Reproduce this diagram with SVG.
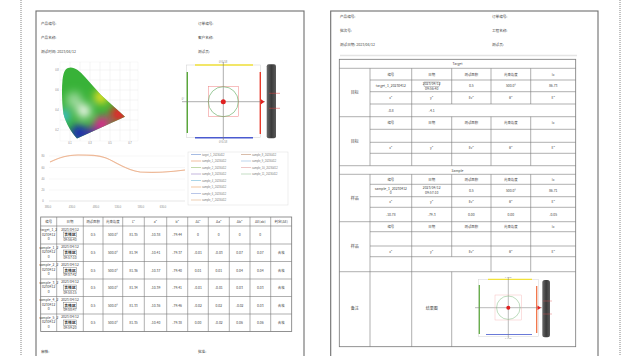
<svg xmlns="http://www.w3.org/2000/svg" width="627" height="356" viewBox="0 0 627 356">
<defs>
<style>
.pg{fill:#fff;stroke:#6e6e6e;stroke-width:1.1}
.dot{stroke:#9a9a9a;stroke-width:1.2;stroke-dasharray:1 1;fill:none}
.t{font-family:"Noto Sans CJK SC","Liberation Sans",sans-serif;font-size:3.6px;fill:#444}
.tc{font-family:"Noto Sans CJK SC","Liberation Sans",sans-serif;font-size:3.4px;fill:#444;text-anchor:middle}
.tb{font-family:"Noto Sans CJK SC","Liberation Sans",sans-serif;font-size:3.8px;fill:#333;font-weight:bold;text-anchor:middle}
.tl{stroke:#7a7a7a;stroke-width:0.6;fill:none}
.grid{stroke:#e6e6e6;stroke-width:0.4}
.ax{font-family:"Liberation Sans",sans-serif;font-size:2.6px;fill:#888;text-anchor:middle}
</style>
<clipPath id="hs"><path d="M68,68 C73,66 79,70 85,77 L101,95 L125,116.7 L77,138.5 C72,133 66,124 63.5,114 C62,104 61.5,90 62.5,80 C63.5,72 65,69 68,68 Z"/></clipPath>
<filter id="bl" x="-50%" y="-50%" width="200%" height="200%"><feGaussianBlur stdDeviation="4"/></filter>
<linearGradient id="bar" x1="0" y1="0" x2="1" y2="0"><stop offset="0" stop-color="#6a6a6a"/><stop offset="0.5" stop-color="#3a3a3a"/><stop offset="1" stop-color="#5a5a5a"/></linearGradient>
</defs>
<rect width="627" height="356" fill="#fff"/>
<line class="dot" x1="21" y1="0" x2="21" y2="356"/>
<line class="dot" x1="620" y1="0" x2="620" y2="356"/>

<!-- LEFT PAGE -->
<g id="page-left">
<rect class="pg" x="36" y="11" width="268" height="360"/>
<text class="t" x="41" y="25">产品编号:</text>
<text class="t" x="41" y="39">产品名称:</text>
<text class="t" x="41" y="53">测试时间: 2023/04/12</text>
<text class="t" x="198" y="25">订单编号:</text>
<text class="t" x="198" y="39">客户名称:</text>
<text class="t" x="198" y="53">测试员:</text>
</g>

<g id="cie-chart">
<rect x="60" y="62" width="78" height="79" fill="#fff" stroke="#eee" stroke-width="0.4"/>
<g class="grid">
<line x1="60" y1="70" x2="138" y2="70"/><line x1="60" y1="80" x2="138" y2="80"/><line x1="60" y1="90" x2="138" y2="90"/><line x1="60" y1="100" x2="138" y2="100"/><line x1="60" y1="110" x2="138" y2="110"/><line x1="60" y1="120" x2="138" y2="120"/><line x1="60" y1="130" x2="138" y2="130"/>
<line x1="70" y1="62" x2="70" y2="141"/><line x1="80" y1="62" x2="80" y2="141"/><line x1="90" y1="62" x2="90" y2="141"/><line x1="100" y1="62" x2="100" y2="141"/><line x1="110" y1="62" x2="110" y2="141"/><line x1="120" y1="62" x2="120" y2="141"/><line x1="130" y1="62" x2="130" y2="141"/>
</g>
<g clip-path="url(#hs)">
<rect x="55" y="60" width="80" height="85" fill="#38b238"/>
<g filter="url(#bl)">
<circle cx="74" cy="100" r="8" fill="#9ad89a"/>
<circle cx="101" cy="97" r="7" fill="#f2e324"/>
<circle cx="119" cy="114" r="9" fill="#e8202a"/>
<circle cx="102" cy="124" r="8" fill="#e2258c"/>
<circle cx="79" cy="133" r="9" fill="#1e2fb0"/>
<circle cx="64" cy="116" r="6" fill="#3cc0ea"/>
<circle cx="93" cy="134" r="7" fill="#4a2aa8"/>
<circle cx="84" cy="111" r="7" fill="#f2f8ee"/>
</g>
</g>
<g class="ax">
<text x="57" y="71">0.8</text><text x="57" y="91">0.6</text><text x="57" y="111">0.4</text><text x="57" y="131">0.2</text>
<text x="70" y="144">0.1</text><text x="90" y="144">0.3</text><text x="110" y="144">0.5</text><text x="130" y="144">0.7</text>
</g>
</g>

<g id="target-left">
<rect x="186.7" y="65" width="74" height="72.7" fill="none" stroke="#cfcfcf" stroke-width="0.5"/>
<line x1="195" y1="65" x2="253" y2="65" stroke="#f2e23a" stroke-width="1.4"/>
<line x1="195" y1="137.7" x2="253" y2="137.7" stroke="#4a5ad0" stroke-width="1.4"/>
<line x1="187.3" y1="72" x2="187.3" y2="133" stroke="#5aa83a" stroke-width="1.4"/>
<line x1="260.3" y1="72" x2="260.3" y2="134" stroke="#e83a2a" stroke-width="1.4"/>
<line x1="182" y1="101.7" x2="265" y2="101.7" stroke="#777" stroke-width="0.6"/>
<line x1="223.3" y1="62" x2="223.3" y2="140" stroke="#777" stroke-width="0.6"/>
<rect x="208.3" y="86.7" width="30" height="30" fill="none" stroke="#f08080" stroke-width="0.5"/>
<circle cx="223.3" cy="101.7" r="15" fill="none" stroke="#5aa85a" stroke-width="0.6"/>
<circle cx="223.3" cy="101.7" r="2.5" fill="#e02020"/>
<path d="M261,99.2 L264.5,101.7 L261,104.2 Z" fill="#e02020"/>
<text class="ax" x="223" y="63">0°/0.58</text>
<text class="ax" x="223" y="142.5">0°/0.58</text>
<text class="ax" x="183" y="100">0°</text>
<rect x="266.7" y="64.3" width="9.3" height="74" rx="2" fill="url(#bar)"/>
<line x1="269" y1="93.3" x2="280" y2="93.3" stroke="#e04040" stroke-width="0.5"/>
<line x1="269" y1="108.3" x2="280" y2="108.3" stroke="#e04040" stroke-width="0.5"/>
</g>

<g id="spectrum-chart">
<g class="grid" style="stroke:#ececec">
<line x1="49" y1="156" x2="185" y2="156"/><line x1="49" y1="167.5" x2="185" y2="167.5"/><line x1="49" y1="179" x2="185" y2="179"/><line x1="49" y1="190" x2="185" y2="190"/>
</g>
<line x1="49" y1="201" x2="185" y2="201" stroke="#ccc" stroke-width="0.5"/>
<g class="ax">
<text x="43" y="157">80</text><text x="43" y="168.5">60</text><text x="43" y="180">40</text><text x="43" y="191">20</text><text x="43" y="202">0</text>
<text x="48" y="207.5">380.0</text><text x="72" y="207.5">430.0</text><text x="96" y="207.5">480.0</text><text x="118" y="207.5">530.0</text><text x="141" y="207.5">580.0</text><text x="163" y="207.5">630.0</text>
</g>
<path d="M50,162 C60,157 68,155 78,155 C90,155 98,155 106,158 C116,162 126,170 140,172 C155,173 170,172 185,170" fill="none" stroke="#f3cdb8" stroke-width="1.1"/>
<path d="M50,162 C60,157 68,155 78,155 C90,155 98,155 106,158 C116,162 126,170 140,172 C155,173 170,172 185,170" fill="none" stroke="#e6a070" stroke-width="0.5"/>
<rect x="188" y="152" width="100" height="53" fill="#fff" stroke="#ddd" stroke-width="0.5"/>
<g stroke-width="0.6">
<line x1="191" y1="154.5" x2="201" y2="154.5" stroke="#6a8fd0"/>
<line x1="191" y1="161" x2="201" y2="161" stroke="#e89060"/>
<line x1="191" y1="167.5" x2="201" y2="167.5" stroke="#98c070"/>
<line x1="191" y1="174" x2="201" y2="174" stroke="#a088c8"/>
<line x1="191" y1="180.5" x2="201" y2="180.5" stroke="#70b8d8"/>
<line x1="191" y1="187" x2="201" y2="187" stroke="#e8a060"/>
<line x1="191" y1="193.5" x2="201" y2="193.5" stroke="#8aa0d8"/>
<line x1="191" y1="200" x2="201" y2="200" stroke="#e0b080"/>
<line x1="241" y1="154.5" x2="251" y2="154.5" stroke="#c09070"/>
<line x1="241" y1="161" x2="251" y2="161" stroke="#90b8e0"/>
<line x1="241" y1="167.5" x2="251" y2="167.5" stroke="#e0a0a0"/>
<line x1="241" y1="174" x2="251" y2="174" stroke="#a0c8a0"/>
</g>
<g class="ax" style="text-anchor:start;fill:#777">
<text x="202" y="155.5">target_1_20230412</text>
<text x="202" y="162">sample_1_20230412</text>
<text x="202" y="168.5">sample_2_20230412</text>
<text x="202" y="175">sample_3_20230412</text>
<text x="202" y="181.5">sample_4_20230412</text>
<text x="202" y="188">sample_5_20230412</text>
<text x="202" y="194.5">sample_6_20230412</text>
<text x="202" y="201">sample_7_20230412</text>
<text x="252" y="155.5">sample_8_20230412</text>
<text x="252" y="162">sample_9_20230412</text>
<text x="252" y="168.5">sample_10_20230412</text>
<text x="252" y="175">sample_11_20230412</text>
</g>
</g>

<g id="table-left">
<rect x="40.7" y="217" width="251" height="114.5" fill="none" stroke="#777" stroke-width="0.8"/>
<g class="tl">
<line x1="40.7" y1="226" x2="291.7" y2="226"/>
<line x1="40.7" y1="244" x2="291.7" y2="244"/>
<line x1="40.7" y1="261.5" x2="291.7" y2="261.5"/>
<line x1="40.7" y1="279" x2="291.7" y2="279"/>
<line x1="40.7" y1="296.5" x2="291.7" y2="296.5"/>
<line x1="40.7" y1="314" x2="291.7" y2="314"/>
<line x1="56.7" y1="217" x2="56.7" y2="331.5"/><line x1="83.3" y1="217" x2="83.3" y2="331.5"/><line x1="103" y1="217" x2="103" y2="331.5"/><line x1="122.7" y1="217" x2="122.7" y2="331.5"/><line x1="144.3" y1="217" x2="144.3" y2="331.5"/><line x1="166.7" y1="217" x2="166.7" y2="331.5"/><line x1="187.7" y1="217" x2="187.7" y2="331.5"/><line x1="208.3" y1="217" x2="208.3" y2="331.5"/><line x1="229.3" y1="217" x2="229.3" y2="331.5"/><line x1="250" y1="217" x2="250" y2="331.5"/><line x1="270.7" y1="217" x2="270.7" y2="331.5"/>
</g>
<g class="tc">
<text x="48.7" y="223">编号</text><text x="70" y="223">日期</text><text x="93" y="223">测试面积</text><text x="112.8" y="223">光束角度</text><text x="133.5" y="223">L*</text><text x="155.5" y="223">a*</text><text x="177.2" y="223">b*</text><text x="198" y="223">ΔL*</text><text x="218.8" y="223">Δa*</text><text x="239.6" y="223">Δb*</text><text x="260.3" y="223">ΔE(ab)</text><text x="281.2" y="223">判定(ΔE)</text>
</g>
<g class="tc">
<text x="48.7" y="231">target_1_2</text><text x="48.7" y="235.5">0230412</text><text x="48.7" y="240">0</text>
<text x="70" y="230.5">2023/04/12</text><text x="70" y="241">09:56:40</text>
<text x="93" y="236">0.5</text><text x="112.8" y="236">500.0°</text><text x="133.5" y="236">81.35</text><text x="155.5" y="236">-10.38</text><text x="177.2" y="236">-79.44</text><text x="198" y="236">0</text><text x="218.8" y="236">0</text><text x="239.6" y="236">0</text><text x="260.3" y="236">0</text>
</g>
<rect x="63.5" y="232" width="13" height="5.5" fill="none" stroke="#666" stroke-width="0.4"/>
<text class="tb" x="70" y="236.3">合格区</text>
<g class="tc">
<text x="48.7" y="248.5">sample_1_2</text><text x="48.7" y="253">0230412</text><text x="48.7" y="257.5">0</text>
<text x="70" y="248">2023/04/12</text><text x="70" y="258.5">09:57:10</text>
<text x="93" y="254">0.5</text><text x="112.8" y="254">500.0°</text><text x="133.5" y="254">81.34</text><text x="155.5" y="254">-10.41</text><text x="177.2" y="254">-79.37</text><text x="198" y="254">-0.01</text><text x="218.8" y="254">-0.03</text><text x="239.6" y="254">0.07</text><text x="260.3" y="254">0.07</text><text x="281.2" y="254">合格</text>
<text x="48.7" y="266">sample_2_2</text><text x="48.7" y="270.5">0230412</text><text x="48.7" y="275">0</text>
<text x="70" y="265.5">2023/04/12</text><text x="70" y="276">09:57:42</text>
<text x="93" y="271.5">0.5</text><text x="112.8" y="271.5">500.0°</text><text x="133.5" y="271.5">81.36</text><text x="155.5" y="271.5">-10.37</text><text x="177.2" y="271.5">-79.40</text><text x="198" y="271.5">0.01</text><text x="218.8" y="271.5">0.01</text><text x="239.6" y="271.5">0.04</text><text x="260.3" y="271.5">0.04</text><text x="281.2" y="271.5">合格</text>
<text x="48.7" y="283.5">sample_3_2</text><text x="48.7" y="288">0230412</text><text x="48.7" y="292.5">0</text>
<text x="70" y="283">2023/04/12</text><text x="70" y="293.5">09:58:15</text>
<text x="93" y="289">0.5</text><text x="112.8" y="289">500.0°</text><text x="133.5" y="289">81.34</text><text x="155.5" y="289">-10.39</text><text x="177.2" y="289">-79.41</text><text x="198" y="289">-0.01</text><text x="218.8" y="289">-0.01</text><text x="239.6" y="289">0.03</text><text x="260.3" y="289">0.03</text><text x="281.2" y="289">合格</text>
<text x="48.7" y="301">sample_4_2</text><text x="48.7" y="305.5">0230412</text><text x="48.7" y="310">0</text>
<text x="70" y="300.5">2023/04/12</text><text x="70" y="311">09:58:47</text>
<text x="93" y="306.5">0.5</text><text x="112.8" y="306.5">500.0°</text><text x="133.5" y="306.5">81.33</text><text x="155.5" y="306.5">-10.36</text><text x="177.2" y="306.5">-79.46</text><text x="198" y="306.5">-0.02</text><text x="218.8" y="306.5">0.02</text><text x="239.6" y="306.5">-0.02</text><text x="260.3" y="306.5">0.03</text><text x="281.2" y="306.5">合格</text>
<text x="48.7" y="318.5">sample_5_2</text><text x="48.7" y="323">0230412</text><text x="48.7" y="327.5">0</text>
<text x="70" y="318">2023/04/12</text><text x="70" y="328.5">09:59:20</text>
<text x="93" y="324">0.5</text><text x="112.8" y="324">500.0°</text><text x="133.5" y="324">81.35</text><text x="155.5" y="324">-10.40</text><text x="177.2" y="324">-79.38</text><text x="198" y="324">0.00</text><text x="218.8" y="324">-0.02</text><text x="239.6" y="324">0.06</text><text x="260.3" y="324">0.06</text><text x="281.2" y="324">合格</text>
</g>
<g fill="none" stroke="#666" stroke-width="0.4">
<rect x="63.5" y="250" width="13" height="5.5"/><rect x="63.5" y="267.5" width="13" height="5.5"/><rect x="63.5" y="285" width="13" height="5.5"/><rect x="63.5" y="302.5" width="13" height="5.5"/><rect x="63.5" y="320" width="13" height="5.5"/>
</g>
<g>
<text class="tb" x="70" y="254.3">合格区</text><text class="tb" x="70" y="271.8">合格区</text><text class="tb" x="70" y="289.3">合格区</text><text class="tb" x="70" y="306.8">合格区</text><text class="tb" x="70" y="324.3">合格区</text>
</g>
<text class="t" x="41" y="353">审核:</text>
<text class="t" x="198" y="353">批准:</text>
</g>

<!-- RIGHT PAGE -->
<g id="page-right">
<rect class="pg" x="330.7" y="11" width="267.3" height="360"/>
<text class="t" x="340" y="17.5">产品编号:</text>
<text class="t" x="340" y="31.5">批次号:</text>
<text class="t" x="340" y="45.5">测试日期: 2023/04/12</text>
<text class="t" x="492" y="17.5">订单编号:</text>
<text class="t" x="492" y="31.5">工程名称:</text>
<text class="t" x="492" y="45.5">测试员:</text>
<line x1="340" y1="55.5" x2="577" y2="55.5" stroke="#e4e4e4" stroke-width="1.5"/>
</g>

<g id="table-right">
<rect x="339.3" y="59.3" width="236.4" height="287.4" fill="none" stroke="#777" stroke-width="0.8"/>
<g class="tl">
<line x1="339.3" y1="68.3" x2="575.7" y2="68.3"/>
<line x1="339.3" y1="116.7" x2="575.7" y2="116.7"/>
<line x1="339.3" y1="165.7" x2="575.7" y2="165.7"/>
<line x1="339.3" y1="174.3" x2="575.7" y2="174.3"/>
<line x1="339.3" y1="221.7" x2="575.7" y2="221.7"/>
<line x1="339.3" y1="271.7" x2="575.7" y2="271.7"/>
<line x1="370" y1="80" x2="575.7" y2="80"/><line x1="370" y1="91.7" x2="575.7" y2="91.7"/><line x1="370" y1="104" x2="575.7" y2="104"/>
<line x1="370" y1="129.3" x2="575.7" y2="129.3"/><line x1="370" y1="142.3" x2="575.7" y2="142.3"/><line x1="370" y1="153.3" x2="575.7" y2="153.3"/>
<line x1="370" y1="184.3" x2="575.7" y2="184.3"/><line x1="370" y1="196.7" x2="575.7" y2="196.7"/><line x1="370" y1="207.3" x2="575.7" y2="207.3"/>
<line x1="370" y1="231.7" x2="575.7" y2="231.7"/><line x1="370" y1="246" x2="575.7" y2="246"/><line x1="370" y1="256.7" x2="575.7" y2="256.7"/>
<line x1="370" y1="68.3" x2="370" y2="165.7"/><line x1="370" y1="174.3" x2="370" y2="346.7"/>
<line x1="411.7" y1="68.3" x2="411.7" y2="165.7"/><line x1="411.7" y1="174.3" x2="411.7" y2="346.7"/>
<line x1="451.7" y1="68.3" x2="451.7" y2="104"/><line x1="451.7" y1="116.7" x2="451.7" y2="165.7"/><line x1="451.7" y1="174.3" x2="451.7" y2="256.7"/><line x1="451.7" y1="271.7" x2="451.7" y2="346.7"/>
<line x1="491" y1="68.3" x2="491" y2="104"/><line x1="491" y1="116.7" x2="491" y2="165.7"/><line x1="491" y1="174.3" x2="491" y2="271.7"/>
<line x1="530.7" y1="68.3" x2="530.7" y2="104"/><line x1="530.7" y1="116.7" x2="530.7" y2="165.7"/><line x1="530.7" y1="174.3" x2="530.7" y2="271.7"/>
</g>
<g class="tc">
<text x="457.5" y="65.3">Target</text>
<text x="457.5" y="171.5">Sample</text>
<text x="354.7" y="93.5" style="font-size:4px">目标</text>
<text x="354.7" y="142.5" style="font-size:4px">目标</text>
<text x="354.7" y="199.5" style="font-size:4px">样品</text>
<text x="354.7" y="247.5" style="font-size:4px">样品</text>
<text x="354.7" y="310" style="font-size:4px">备注</text>
<text x="431.7" y="310" style="font-size:4px">结果图</text>
<text x="390.8" y="75.5">编号</text><text x="431.7" y="75.5">日期</text><text x="471.3" y="75.5">测试面积</text><text x="510.8" y="75.5">光束角度</text><text x="553.2" y="75.5">lx</text>
<text x="390.8" y="87">target_1_20230412</text><text x="431.7" y="85">2023/04/12</text><text x="431.7" y="89.7">09:56:40</text><text x="471.3" y="87">0.5</text><text x="510.8" y="87">500.0°</text><text x="553.2" y="87">86.73</text>
<text x="390.8" y="99">x*</text><text x="431.7" y="99">y*</text><text x="471.3" y="99">Ev*</text><text x="510.8" y="99">θ*</text><text x="553.2" y="99">E*</text>
<text x="390.8" y="111.5">-0.8</text><text x="431.7" y="111.5">-4.1</text>
<text x="390.8" y="124">编号</text><text x="431.7" y="124">日期</text><text x="471.3" y="124">测试面积</text><text x="510.8" y="124">光束角度</text><text x="553.2" y="124">lx</text>
<text x="390.8" y="149">x*</text><text x="431.7" y="149">y*</text><text x="471.3" y="149">Ev*</text><text x="510.8" y="149">θ*</text><text x="553.2" y="149">E*</text>
<text x="390.8" y="180.5">编号</text><text x="431.7" y="180.5">日期</text><text x="471.3" y="180.5">测试面积</text><text x="510.8" y="180.5">光束角度</text><text x="553.2" y="180.5">lx</text>
<text x="390.8" y="189.5">sample_1_20230412</text><text x="390.8" y="194">0</text><text x="431.7" y="189.3">2023/04/12</text><text x="431.7" y="194">09:57:10</text><text x="471.3" y="191.5">0.5</text><text x="510.8" y="191.5">500.0°</text><text x="553.2" y="191.5">86.71</text>
<text x="390.8" y="203">x*</text><text x="431.7" y="203">y*</text><text x="471.3" y="203">Ev*</text><text x="510.8" y="203">θ*</text><text x="553.2" y="203">E*</text>
<text x="390.8" y="215.5">-10.78</text><text x="431.7" y="215.5">-79.3</text><text x="471.3" y="215.5">0.00</text><text x="510.8" y="215.5">0.00</text><text x="553.2" y="215.5">-0.05</text>
<text x="390.8" y="228">编号</text><text x="431.7" y="228">日期</text><text x="471.3" y="228">测试面积</text><text x="510.8" y="228">光束角度</text><text x="553.2" y="228">lx</text>
<text x="390.8" y="252.5">x*</text><text x="431.7" y="252.5">y*</text><text x="471.3" y="252.5">Ev*</text><text x="510.8" y="252.5">θ*</text><text x="553.2" y="252.5">E*</text>
</g>
<rect x="424" y="82" width="15.5" height="4.2" fill="none" stroke="#666" stroke-width="0.35"/>
</g>

<g id="target-right">
<rect x="478.3" y="279.3" width="60" height="57.4" fill="none" stroke="#d4d4d4" stroke-width="0.5"/>
<line x1="488" y1="279.3" x2="532" y2="279.3" stroke="#f2e23a" stroke-width="1.2"/>
<line x1="486" y1="334.5" x2="532" y2="334.5" stroke="#6a7ad8" stroke-width="1.2"/>
<line x1="479.3" y1="285" x2="479.3" y2="334" stroke="#5aa83a" stroke-width="1.2"/>
<line x1="536.7" y1="286" x2="536.7" y2="333" stroke="#f06a3a" stroke-width="1.2"/>
<line x1="475" y1="307.7" x2="542" y2="307.7" stroke="#777" stroke-width="0.5"/>
<line x1="508.3" y1="277" x2="508.3" y2="338" stroke="#777" stroke-width="0.5"/>
<rect x="495" y="295" width="26.7" height="25" fill="none" stroke="#f4b0b0" stroke-width="0.4"/>
<circle cx="508.3" cy="307.7" r="11.7" fill="none" stroke="#7ab87a" stroke-width="0.5"/>
<circle cx="508.3" cy="307.7" r="2" fill="#e02020"/>
<path d="M537.5,305.5 L541,307.7 L537.5,310 Z" fill="#e02020"/>
<text class="ax" x="508.3" y="278" style="font-size:2px">0°/0.58</text>
<text class="ax" x="508.3" y="338.5" style="font-size:2px">0°/0.58</text>
<rect x="542.3" y="280" width="7.7" height="57.3" rx="2.5" fill="url(#bar)"/>
<line x1="543" y1="301" x2="552" y2="301" stroke="#e05050" stroke-width="0.4"/>
<line x1="543" y1="314" x2="552" y2="314" stroke="#e05050" stroke-width="0.4"/>
</g>
</svg>
